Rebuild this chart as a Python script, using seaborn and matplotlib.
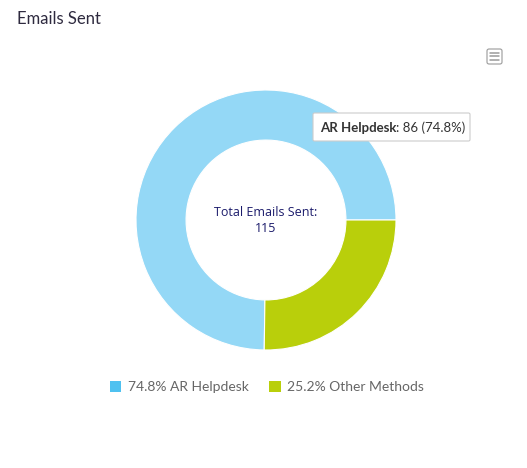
import matplotlib
matplotlib.use("Agg")
import matplotlib.pyplot as plt
from matplotlib.patches import FancyBboxPatch, Patch
import seaborn as sns

# データ
labels = ['AR Helpdesk', 'Other Methods']
counts = [86, 29]
slice_colors = ['#94d8f6', '#b9cf0b']
legend_colors = ['#4fc1f0', '#b9cf0b']

total = sum(counts)
pcts = [c / total * 100 for c in counts]

sns.set_theme(style="white")
plt.rcParams['font.family'] = ['Open Sans', 'DejaVu Sans']

W, H = 527, 468
fig = plt.figure(figsize=(W / 100, H / 100), dpi=100)

# ドーナツ (中心 266,220 半径 130px)
cx, cy, r = 266, 220, 130
ax = fig.add_axes([(cx - r) / W, (H - cy - r) / H, 2 * r / W, 2 * r / H])
ax.pie(counts, colors=slice_colors, startangle=0, counterclock=True,
       radius=1, wedgeprops=dict(width=0.385, edgecolor='white', linewidth=0.8))
ax.set_xlim(-1, 1)
ax.set_ylim(-1, 1)
ax.set_aspect('auto')
ax.axis('off')

ax.text(0, 0.0, f'Total Emails Sent:\n{total}', ha='center', va='center',
        fontsize=9, color='#1b1b6b', linespacing=1.3)

# タイトル
fig.text(17 / W, 1 - 19 / H, 'Emails Sent', fontsize=12, color='#2e2a3f',
         family=['Lato', 'DejaVu Sans'], va='center', ha='left')

# メニューアイコン
icon = FancyBboxPatch((487 / W, 1 - 64 / H), 15 / W, 15 / H,
                      boxstyle='round,pad=0,rounding_size=0.004',
                      transform=fig.transFigure, facecolor='white',
                      edgecolor='#9a9a9a', linewidth=0.8)
fig.add_artist(icon)
for yy in (52.5, 56, 59.5):
    fig.add_artist(plt.Line2D([490 / W, 499 / W], [1 - yy / H, 1 - yy / H],
                              transform=fig.transFigure, color='#9a9a9a', lw=1.1))

# ツールチップ
tip = FancyBboxPatch((313 / W, 1 - 141 / H), 157 / W, 28 / H,
                     boxstyle='round,pad=0,rounding_size=0.003',
                     transform=fig.transFigure, facecolor='white',
                     edgecolor='#cccccc', linewidth=0.8, zorder=5)
fig.add_artist(tip)
t1 = fig.text(320 / W, 1 - 132 / H, labels[0], fontsize=9.5, fontweight='bold',
              color='#333333', va='baseline', ha='left', zorder=6,
              family=['Lato', 'DejaVu Sans'])
fig.canvas.draw()
bb = t1.get_window_extent(renderer=fig.canvas.get_renderer())
fig.text(bb.x1 / W, 1 - 132 / H, f': {counts[0]} ({pcts[0]:.1f}%)', fontsize=9.5,
         color='#333333', va='baseline', ha='left', zorder=6,
         family=['Lato', 'DejaVu Sans'])

# 凡例
handles = [Patch(facecolor=c, edgecolor='none') for c in legend_colors]
leg_labels = [f'{p:.1f}% {l}' for p, l in zip(pcts, labels)]
leg = fig.legend(handles, leg_labels, loc='center', bbox_to_anchor=(267 / W, 1 - 387 / H),
                 ncol=2, frameon=False, labelcolor='#666666',
                 handlelength=0.8, handleheight=0.8, handletextpad=0.5,
                 columnspacing=1.5, prop={'family': ['Lato', 'DejaVu Sans'], 'size': 10})

fig.savefig('out.png', dpi=100, facecolor='white')
